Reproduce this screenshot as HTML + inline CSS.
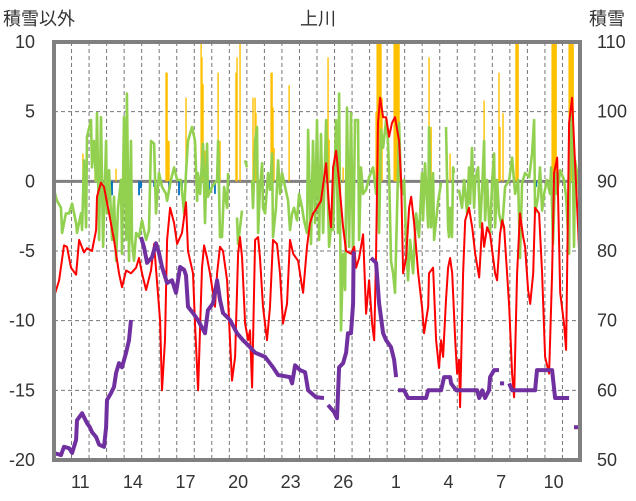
<!DOCTYPE html>
<html><head><meta charset="utf-8"><style>
html,body{margin:0;padding:0;background:#fff;}
svg{display:block;font-family:"Liberation Sans","Noto Sans CJK JP",sans-serif;}
</style></head><body>
<svg id="chart" width="636" height="501" viewBox="0 0 636 501" xmlns="http://www.w3.org/2000/svg">
<rect x="0" y="0" width="636" height="501" fill="#fff"/>
<text x="3" y="25" font-size="18" fill="#333">積雪以外</text>
<text x="318" y="25" font-size="18" fill="#333" text-anchor="middle">上川</text>
<text x="589" y="25" font-size="18" fill="#333">積雪</text>
<g id="grid"></g>
<g id="bars"></g>
<g id="lines"></g>
<g id="axes"></g>
</svg>
<script>
const xTickLabels=["11","14","17","20","23","26","1","4","7","10"];
const xTickDays=[1,4,7,10,13,16,19,22,25,28];
const leftTicks=[10,5,0,-5,-10,-15,-20];
const rightTicks=[110,100,90,80,70,60,50];

const redT=[0,.29,.57,.74,.97,1.26,1.43,1.71,1.88,2.17,2.40,2.45,2.68,2.85,3.14,3.42,3.71,3.88,4.11,4.39,4.68,4.85,5.02,5.25,5.53,5.71,5.88,6.05,6.16,6.33,6.45,6.62,6.85,7.02,7.30,7.53,
7.64,7.93,8.04,8.22,8.44,8.56,8.73,8.90,9.18,9.30,9.47,9.64,9.87,10.04,10.15,10.33,10.50,10.61,10.73,10.90,11.07,11.18,11.30,11.47,11.64,11.75,11.92,12.15,12.32,12.49,12.72,12.89,13.06,13.29,13.46,13.64,13.92,14.15,14.21,14.43,14.60,14.78,15.00,
15.23,15.52,15.69,15.80,15.92,16.09,16.26,16.49,16.66,16.94,17.12,17.23,17.40,17.63,17.80,17.97,18.14,18.26,18.37,18.48,18.60,18.77,18.94,19.11,19.28,19.45,19.68,19.80,19.91,20.08,20.25,20.37,20.54,20.77,20.99,21.11,21.34,21.39,21.62,21.79,21.96,22.08,22.19,22.36,22.48,
22.59,22.71,22.88,22.99,23.10,23.16,23.33,23.45,23.67,23.85,24.02,24.25,24.42,24.53,24.70,24.87,25.16,25.27,25.44,25.56,25.67,25.96,26.13,26.24,26.41,26.58,26.76,26.87,27.04,27.16,27.33,27.44,27.67,27.84,28.01,28.24,28.41,28.52,28.70,28.87,29.09,29.21,29.38,29.55,29.66,29.89,29.95];
const redV=[-8.3,-7.1,-4.6,-4.7,-6.2,-6.7,-4.2,-5.1,-4.8,-5,-3.5,-1.1,-0.1,-0.4,-2.3,-4.2,-6.6,-7.6,-6.4,-6.6,-6.2,-5.5,-6.6,-7.8,-6.4,-4.5,-7.3,-10,-15,-11.4,-4.2,-1.9,-3,-4.5,-3.7,-1.5,
-5,-6.6,-10.2,-15,-6.2,-4.6,-5.5,-6.6,-9,-6.6,-4.7,-5,-7.1,-11.4,-14.3,-12.6,-5.2,-4,-5.5,-10.2,-11.4,-10.7,-14.8,-4.2,-4,-5.5,-9,-11.4,-9,-4.2,-4.5,-6.6,-10.2,-8.8,-4.2,-5.2,-5.7,-7.6,-8,-4.7,-3,-2.3,-1.9,
-1.4,1.3,-1.9,-3.3,1,2.2,0,-3.3,-5,-5.2,-4.7,-6.2,-5.5,-3.8,-9.5,-7.1,-10.2,-11.4,-5.2,4.2,6,4.6,4.6,3.2,4.2,4.6,2.9,-0.1,-6.6,-5.5,-1.9,-1.1,-3,-6.6,-9,-10.9,-9,-6.6,-6.2,-11.4,-13.4,-11.4,-12.6,-8.5,-6.2,
-5.5,-6.6,-11.4,-13.8,-12.8,-16.2,-6.6,-2.8,-1.9,-3.3,-5.2,-6.9,-3,-4.7,-3.3,-3.8,-6.6,-7.1,-3.8,-2.8,-3.3,-9,-13.8,-15.5,-6.6,-2.3,-4,-4.7,-7.8,-8.8,-6.6,-1.9,-2.3,-6.6,-12.6,-13.8,-6.6,0.6,1.7,-8,-10.2,-12.1,4.2,6,2.9,-3.3,-5];

const greenT=[0,.17,.40,.46,.68,.86,1.03,1.26,1.31,1.54,1.60,1.71,1.83,1.88,2.11,2.17,2.28,2.40,2.45,2.57,2.68,2.80,2.97,3.02,3.14,3.31,3.42,3.54,3.65,3.82,3.88,3.99,4.11,4.16,4.28,4.39,4.45,4.56,4.68,4.85,5.02,5.25,5.42,5.53,5.71,5.82,5.99,6.16,6.39,6.45,6.67,6.85,7.02,7.24,7.42,7.53,
7.64,7.87,8.04,8.16,8.21,8.33,8.50,8.61,8.73,8.78,9.01,9.30,9.36,9.47,9.58,9.70,9.87,9.93,10.2,10.44,10.50,10.72,10.8,10.90,11.01,11.15,11.30,11.35,11.47,11.58,11.64,11.75,11.87,11.92,12.04,12.21,12.32,12.44,12.49,12.66,12.78,12.89,13.01,13.18,13.35,13.46,13.58,13.69,13.86,13.98,14.15,14.26,14.43,14.49,14.66,14.77,14.89,
15.00,15.12,15.23,15.35,15.52,15.69,15.80,15.92,16.09,16.20,16.26,16.37,16.49,16.60,16.71,16.83,16.94,17.06,17.17,17.34,17.40,17.51,17.63,17.80,17.97,18.20,18.37,18.48,18.54,18.65,18.77,18.94,19.05,19.11,19.22,19.34,19.45,19.62,19.68,19.79,19.91,19.97,20.08,20.19,20.31,20.48,20.65,20.82,20.99,21.05,21.16,21.34,21.39,21.51,21.62,21.68,21.91,22.08,22.2,22.36,22.48,
22.53,22.59,22.70,22.76,22.82,22.95,23.10,23.27,23.39,23.56,23.67,23.73,23.84,23.96,24.02,24.19,24.30,24.42,24.53,24.59,24.70,24.81,24.87,24.99,25.10,25.16,25.27,25.38,25.56,25.73,25.96,26.13,26.30,26.47,26.58,26.70,26.87,27.10,27.27,27.38,27.44,27.61,27.72,27.84,27.95,28.12,28.29,28.35,28.46,28.58,28.69,28.87,29.09,29.21,29.38,29.43,29.55,29.66,29.72,29.89,29.95];
const greenV=[-0.6,-1.4,-1.9,-3.7,-2.3,-2.3,-1.6,-3,-3.7,-2.3,-3.5,1.5,-3.3,3.2,4.4,1,2.9,0,4.9,-4.2,4.6,-4.7,2.9,-2.3,0.8,-4.2,-1.1,-5.7,-1.9,0.1,-5.2,4.6,-4.2,6.3,-5.7,2.9,-4.2,-5.7,-3.7,-4,-2.8,-4.2,-3.5,2.9,2.7,-2.3,0.6,-0.4,-0.9,-1.4,0.1,1,0.1,0.1,-2.3,0.6,
2.9,3.9,2.9,-1.4,0.6,-0.9,2.7,-3,2.7,-1.1,-0.4,0.1,2.9,-4,-4,-0.4,-1.9,0.6,null,-2.6,-4.5,-2.1,null,1.5,1.0,null,0.1,-1.9,2.9,3.9,-3.7,-0.4,1.3,-1.9,-2.3,0.6,-0.6,2,-4,-1.9,1.5,-0.9,0.6,-0.4,-1.4,-3.5,-2.3,-1.9,-2.8,-0.9,-1.9,-2.8,-3.7,3.7,-4.5,2.9,-3,
4.4,-4.2,3.4,-3.7,4.4,-4.7,-3.3,-3.5,4.4,-3.7,6.3,-10.7,-5.2,-7.8,5.3,-4.7,4.9,-5.7,4.4,4.4,-4.2,1,-0.9,-0.6,0.3,1,-0.9,0.6,-3.7,3.7,2.4,4.4,2.9,0.6,-5.7,-6.6,-8,0.6,4.2,-0.4,-0.9,0.1,-4.2,-7.1,-4.2,-6.6,-2.3,-4,0.6,-2.8,1.3,-3.3,3.9,-3.3,0.6,-4.2,-1.4,-0.1,null,3.9,-3.3,
-4,-1.9,-4,1,0.6,null,-0.6,-1.9,0.1,-2.3,1,-1.6,2.4,-1.9,0.1,1,-3.3,-0.4,2.9,-2.8,0.1,-2.8,-3.7,0.1,2,-3.3,0.1,-2.3,-3.3,-0.4,0.1,1.7,-0.9,0.1,-5.5,-0.1,0.6,0.3,2,4.4,-2.3,-1.1,1,-2.1,-0.9,0.1,-0.9,1,-4.5,0.6,-0.9,0.8,0.1,-1.1,-5.2,2.9,5.3,-4.7,1.5,0.1,-0.9];

const snowT=[0,.40,.57,.86,1.03,1.26,1.31,1.60,1.88,2.05,2.17,2.40,2.57,2.85,2.97,3.02,3.25,3.42,3.54,3.71,3.88,4.11,4.28,4.39,4.6,
4.96,5.13,5.31,5.59,5.82,5.99,6.16,6.45,6.73,6.96,7.19,7.42,7.53,7.64,7.93,8.21,8.61,8.78,9.07,9.30,9.47,9.64,10.04,10.44,10.78,11.18,11.47,12.04,12.49,12.78,13.46,13.58,13.75,14.03,14.32,14.49,14.95,15.40,15.5,
15.63,15.97,16.14,16.26,16.49,16.66,16.77,16.94,17.06,17.09,17.17,17.6,
18.08,18.37,18.54,18.77,18.94,19.22,19.40,19.51,19.56,
19.62,19.97,20.19,21.22,21.34,22.08,22.25,22.59,22.65,22.94,24.13,24.25,24.42,24.59,24.81,24.87,25.10,25.38,25.41,
25.44,25.67,25.8,
25.96,26.13,27.44,27.55,28.41,28.58,29.38,29.5,
29.66,29.95];
const snowV=[51,50.7,51.9,51.7,51,52.9,55.7,56.7,55.3,54.7,54,53.3,52.2,51.9,54.7,58.6,59.6,60.5,62.5,63.9,63.3,65.4,67.2,70.1,null,
82,80.6,78.3,79.1,81.1,79.7,77.7,75.4,75.8,74,77.7,77.3,76.5,72,71.1,70.1,68.2,71.5,72.5,75.8,73,71.1,70.1,68.2,67.2,66.2,65.4,64.8,63.3,62.2,61.9,61,63.6,62.9,62.6,60,59,58.9,null,
57.9,56.9,56,63.3,63.9,65.4,68.2,68.2,72.5,79.7,79.9,null,
79,78.3,72.5,68.2,67.2,66.2,64.4,61.9,null,
60,60,58.9,58.9,60,60,61.9,61.9,61,60,60,58.9,60,58.9,60,61.9,62.9,62.9,null,
61,61,null,
61,60,60,62.9,62.9,58.9,58.9,null,
54.7,54.7];

const rainT=[1.65,2.34,3.54,6.39,6.45,6.50,6.56,7.53,8.39,8.44,8.50,8.61,9.36,9.47,10.38,10.44,10.61,11.35,11.47,11.52,12.38,12.44,12.49,12.55,13.41,15.63,15.69,16.49,18.37,18.43,18.48,18.54,18.60,18.65,18.71,19.40,19.45,19.51,19.57,19.62,19.68,21.39,21.51,22.59,24.53,25.38,25.44,25.61,26.35,26.41,26.47,28.41,28.47,28.52,28.58,28.64,29.38,29.43,29.49,29.55,29.61];
const rainV=[2.0,1.3,0.9,7.8,7.8,2.9,2.9,6,12,8.9,7,2.2,7.8,2.9,7.8,8.9,12,6,6,4.9,7.8,7.8,5.3,2.4,6.9,8.9,3,1,5,12,12,12,12,12,6,12,12,12,12,12,12,8.9,3.9,2,5.8,7.8,3.9,4.9,12,12,12,12,12,12,12,12,12,12,12,12,12];
const negT=[3.25,3.31,4.85,4.96,5.71,6.56,6.62,7.13,7.30,8.84,9.18,27.50];
const negV=[-1,-1,-1,-0.5,-0.4,-0.5,-0.5,-1,-0.6,-0.6,-0.9,-0.4];

const L=54,R=580,T=42,B=460,NDAYS=30;
const xs=t=>L+(R-L)*t/NDAYS;
const yl=v=>T+(10-Math.min(10,Math.max(-20,v)))*(B-T)/30;
const yr=v=>T+(110-v)*(B-T)/60;
const NS="http://www.w3.org/2000/svg";
function mk(tag,parent,attrs){const e=document.createElementNS(NS,tag);for(const k in attrs)e.setAttribute(k,attrs[k]);parent.appendChild(e);return e;}
const grid=document.getElementById('grid'),bars=document.getElementById('bars'),lines=document.getElementById('lines'),axes=document.getElementById('axes');

for(const v of leftTicks){ if(v===0||v===10||v===-20) continue;
 const g=mk('line',grid,{x1:L,x2:R,y1:yl(v),y2:yl(v),stroke:'#777','stroke-width':1,'stroke-dasharray':'4,3'});
 
 }
for(let d=1;d<NDAYS;d++){
 const g=mk('line',grid,{x1:xs(d),x2:xs(d),y1:T,y2:B,stroke:'#777','stroke-width':1,'stroke-dasharray':'4,3'});
 
 }
const z=mk('line',grid,{x1:L,x2:R,y1:yl(0),y2:yl(0),stroke:'#808080','stroke-width':3});



rainT.forEach((t,i)=>{const y=yl(rainV[i]);
 const b=mk('rect',bars,{x:xs(t)-0.7,y:y,width:1.4,height:yl(0)-y,fill:'#ffc000'});
 
 });
negT.forEach((t,i)=>{
 const b=mk('rect',bars,{x:xs(t)-0.9,y:yl(0),width:1.8,height:yl(negV[i])-yl(0),fill:'#0070c0'});
 
 });

function pathFrom(ts,vs,sc){let d='',pen=false;
 ts.forEach((t,i)=>{const v=vs[i]; if(v===null){pen=false;return;}
  d+=(pen?'L':'M')+xs(t).toFixed(1)+','+sc(v).toFixed(1)+' ';pen=true;});return d;}
const gp=mk('path',lines,{d:pathFrom(greenT,greenV,yl),fill:'none',stroke:'#92d050','stroke-width':2.6,'stroke-linejoin':'round'});


const rp=mk('path',lines,{d:pathFrom(redT,redV,yl),fill:'none',stroke:'#ff0000','stroke-width':2,'stroke-linejoin':'round'});


const sp=mk('path',lines,{d:pathFrom(snowT,snowV,yr),fill:'none',stroke:'#7030a0','stroke-width':4,'stroke-linejoin':'round'});



const fr=mk('rect',axes,{x:L,y:T,width:R-L,height:B-T,fill:'none',stroke:'#808080','stroke-width':4});


leftTicks.forEach(v=>{const t=mk('text',axes,{x:35,y:yl(v)+6,'font-size':18,'text-anchor':'end',fill:'#333'});t.textContent=v;
 
 });
rightTicks.forEach(v=>{const t=mk('text',axes,{x:597,y:yr(v)+6,'font-size':18,fill:'#333'});t.textContent=v;
 
 });
xTickLabels.forEach((s,i)=>{const t=mk('text',axes,{x:xs(xTickDays[i]+0.5),y:488,'font-size':18,'text-anchor':'middle',fill:'#333'});t.textContent=s;
 
 });
</script>
</body></html>
